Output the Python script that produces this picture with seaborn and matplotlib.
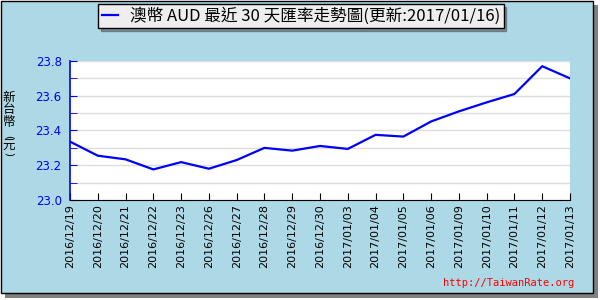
import numpy as np
import pandas as pd
import matplotlib
matplotlib.use("Agg")
import matplotlib.pyplot as plt
import seaborn as sns
from matplotlib.patches import Rectangle
from matplotlib.ticker import MultipleLocator, FormatStrFormatter
from matplotlib.font_manager import FontProperties

dates = ["2016/12/19", "2016/12/20", "2016/12/21", "2016/12/22", "2016/12/23",
         "2016/12/26", "2016/12/27", "2016/12/28", "2016/12/29", "2016/12/30",
         "2017/01/03", "2017/01/04", "2017/01/05", "2017/01/06", "2017/01/09",
         "2017/01/10", "2017/01/11", "2017/01/12", "2017/01/13"]
rates = [23.336, 23.255, 23.234, 23.176, 23.218, 23.180, 23.230, 23.300, 23.284,
         23.311, 23.294, 23.375, 23.365, 23.452, 23.510, 23.562, 23.610, 23.770, 23.700]
title = "澳幣 AUD 最近 30 天匯率走勢圖(更新:2017/01/16)"
ylabel_chars = ["新", "台", "幣", "(", "元", ")"]
watermark = "http://TaiwanRate.org"

df = pd.DataFrame({"pos": np.arange(len(dates)), "rate": rates})

fig = plt.figure(figsize=(6, 3), dpi=100, facecolor="white")
W, H = 600.0, 300.0
# shadow and frame
fig.patches.append(Rectangle((5 / W, 2 / H), 593 / W, 293 / H, transform=fig.transFigure,
                             facecolor="#808080", edgecolor="none", zorder=-2))
fig.patches.append(Rectangle((0.5 / W, 7 / H), 592 / W, 292.5 / H, transform=fig.transFigure,
                             facecolor="#ADD8E6", edgecolor="black", lw=1, zorder=-1))

ax = fig.add_axes([70 / W, 1 - 200 / H, 500 / W, 139 / H])
ax.set_facecolor("white")
sns.lineplot(data=df, x="pos", y="rate", ax=ax, color="#0000FF", lw=1.6, label=title)

ax.set_xlim(0, len(dates) - 1)
ax.set_ylim(23.0, 23.8)
ax.yaxis.set_major_locator(MultipleLocator(0.2))
ax.yaxis.set_minor_locator(MultipleLocator(0.1))
ax.yaxis.set_major_formatter(FormatStrFormatter("%.1f"))
ax.grid(axis="y", which="both", color="#DDDDDD", lw=1)
ax.set_axisbelow(True)
for s in ["top", "right"]:
    ax.spines[s].set_visible(False)
ax.spines["left"].set_color("#0000FF")
ax.spines["left"].set_linewidth(1.2)
ax.spines["bottom"].set_color("black")
ax.tick_params(axis="y", which="both", direction="in", color="#0000FF", labelcolor="#0000FF",
               length=5, labelsize=8.5, pad=6)
ax.set_xticks(df["pos"])
ax.set_xticklabels(dates, rotation=90)
ax.tick_params(axis="x", direction="in", length=5, labelsize=8, pad=3, color="black")
ax.set_xlabel("")
ax.set_ylabel("")

leg = ax.legend(loc="upper center", bbox_to_anchor=(301 / W, 1 - 4 / H),
                bbox_transform=fig.transFigure,
                prop=FontProperties(family=["Noto Sans CJK TC", "DejaVu Sans"], size=12),
                frameon=True, fancybox=False, edgecolor="black", facecolor="#EEEEEE",
                framealpha=1, shadow=True, handlelength=1.0, handletextpad=0.7,
                borderpad=0.2, borderaxespad=0)
leg.get_frame().set_linewidth(1)

# vertical y-axis label, one glyph at a time (parentheses turned for vertical text)
label_y = [97.5, 110, 122, 136.5, 146, 154]
for ch, yy in zip(ylabel_chars, label_y):
    if ch in "()":
        fig.text(9 / W, 1 - yy / H, ch, ha="center", va="center", fontsize=7.5,
                 rotation=-90, family="DejaVu Sans")
    else:
        fig.text(9 / W, 1 - yy / H, ch, ha="center", va="center", fontsize=9,
                 family=["Noto Sans CJK TC", "DejaVu Sans"])

fig.text(574 / W, 1 - 283 / H, watermark, ha="right", va="center", color="red",
         family="DejaVu Sans Mono", fontsize=7.5)

fig.savefig("out.png", dpi=100)
